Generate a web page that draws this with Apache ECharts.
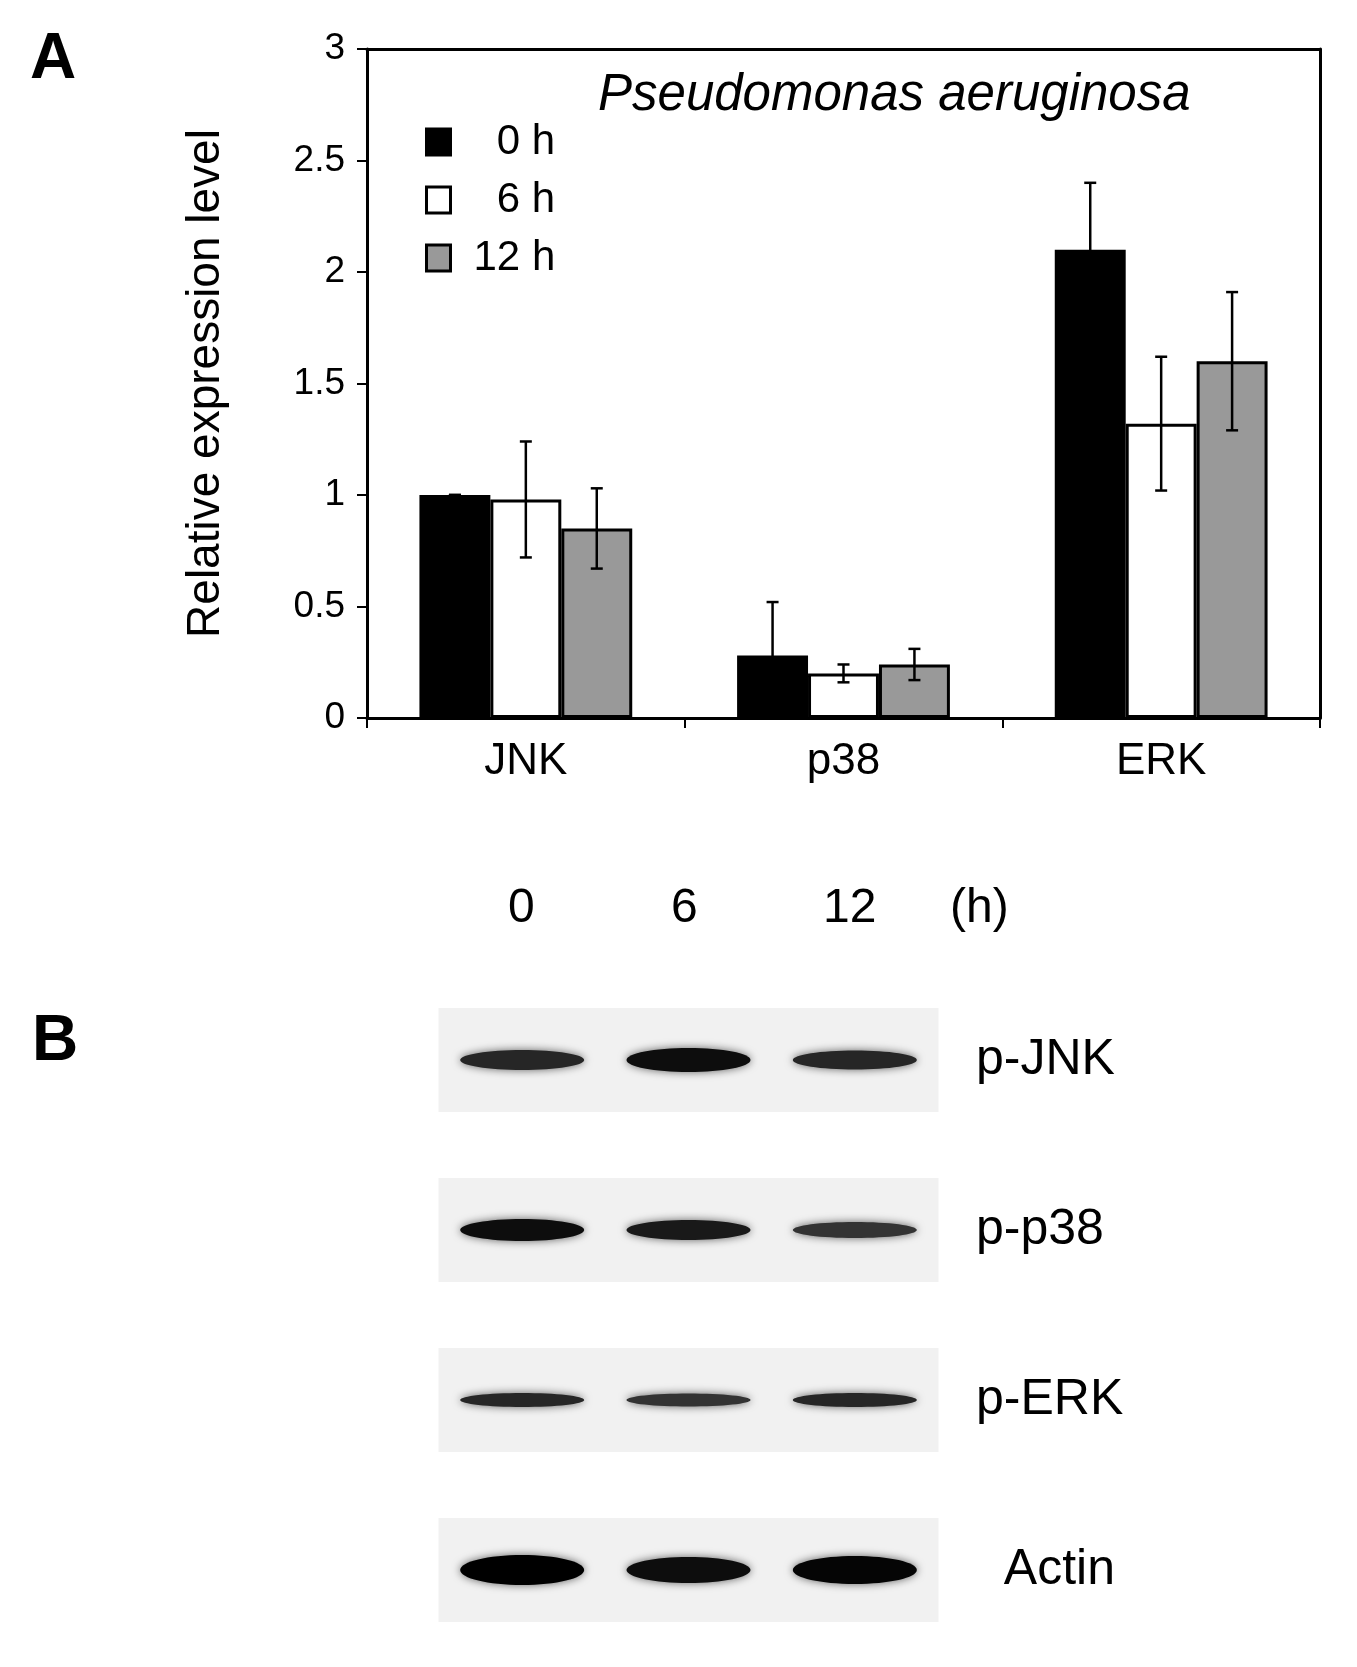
<!DOCTYPE html>
<html><head><meta charset="utf-8">
<script src="https://cdn.jsdelivr.net/npm/echarts@6/dist/echarts.min.js"></script>
<style>html,body{margin:0;background:#fff}#main{width:1357px;height:1667px}</style>
</head><body><div id="main"></div>
<script>
var myChart = echarts.init(document.getElementById('main'));

var genes = ['JNK', 'p38', 'ERK'];
var timeNames = ['0 h', '6 h', '12 h'];
var val_0h = [1.0, 0.28, 2.1];
var val_6h = [0.98, 0.2, 1.32];
var val_12h = [0.85, 0.24, 1.6];
var err_0h = [0.0, 0.24, 0.3];
var err_6h = [0.26, 0.04, 0.3];
var err_12h = [0.18, 0.07, 0.31];
var barColors = ['#000000', '#ffffff', '#999999'];

// western blot panel
var lanes = ['0', '6', '12'];
var blotRows = ['p-JNK', 'p-p38', 'p-ERK', 'Actin'];
// band thickness (px) per row, per lane
var bandThick = [[20, 24, 19], [22, 20, 16], [14, 13, 14], [30, 26, 28]];
var bandDark = [[0.85, 0.95, 0.85], [0.95, 0.9, 0.8], [0.85, 0.8, 0.85], [1, 0.95, 0.98]];

var BW = 0.2233;
var allVals = [val_0h, val_6h, val_12h];
var allErr = [err_0h, err_6h, err_12h];
var errData = [];
for (var s = 0; s < 3; s++) {
    for (var i = 0; i < genes.length; i++) {
        errData.push([i, allVals[s][i], allErr[s][i], s]);
    }
}
var blotData = [];
for (var r = 0; r < blotRows.length; r++) {
    for (var l = 0; l < lanes.length; l++) {
        blotData.push([l, r, bandThick[r][l], bandDark[r][l]]);
    }
}

var font = 'Liberation Sans, Arial, sans-serif';

myChart.setOption({
    animation: false,
    backgroundColor: '#fff',
    textStyle: {fontFamily: font},
    graphic: [
        {type: 'text', left: 30, top: 28, style: {text: 'A', font: 'bold 64px ' + font, fill: '#000'}},
        {type: 'text', left: 32, top: 1010, style: {text: 'B', font: 'bold 64px ' + font, fill: '#000'}},
        {type: 'text', left: 598, top: 70, style: {text: 'Pseudomonas aeruginosa', font: 'italic 51px ' + font, fill: '#000'}},
        {type: 'text', left: 508, top: 885, style: {text: '0', font: '48px ' + font, fill: '#000'}},
        {type: 'text', left: 671, top: 885, style: {text: '6', font: '48px ' + font, fill: '#000'}},
        {type: 'text', left: 823, top: 885, style: {text: '12', font: '48px ' + font, fill: '#000'}},
        {type: 'text', left: 950, top: 885, style: {text: '(h)', font: '48px ' + font, fill: '#000'}}
    ],
    legend: {
        orient: 'vertical', left: 420, top: 116, itemGap: 16,
        itemWidth: 24, itemHeight: 26, icon: 'rect',
        itemStyle: {borderColor: '#000', borderWidth: 3},
        data: timeNames,
        textStyle: {fontSize: 42, color: '#000', fontFamily: font, padding: [0, 0, 0, 18]},
        formatter: function (n) { return n === '12 h' ? n : '  ' + n; }
    },
    grid: [
        {left: 367, top: 49, width: 953, height: 669},
        {left: 439, top: 975, width: 499, height: 680}
    ],
    xAxis: [
        {type: 'category', data: genes, gridIndex: 0,
            axisLine: {lineStyle: {color: '#000', width: 3}},
            axisTick: {show: true, length: 10, lineStyle: {width: 2}, alignWithLabel: false},
            axisLabel: {fontSize: 44, color: '#000', margin: 22, fontFamily: font}},
        {type: 'category', data: genes, gridIndex: 0, position: 'top',
            axisLine: {show: true, onZero: false, lineStyle: {color: '#000', width: 3}}, axisTick: {show: false}, axisLabel: {show: false}},
        {type: 'category', data: lanes, gridIndex: 1, show: false}
    ],
    yAxis: [
        {type: 'value', min: 0, max: 3, interval: 0.5, gridIndex: 0,
            name: 'Relative expression level', nameLocation: 'middle', nameGap: 138,
            nameTextStyle: {fontSize: 46, color: '#000', fontFamily: font},
            axisLine: {show: true, lineStyle: {color: '#000', width: 3}},
            axisTick: {show: true, length: 10, lineStyle: {width: 2}},
            splitLine: {show: false},
            axisLabel: {fontSize: 37, color: '#000', margin: 22, fontFamily: font}},
        {type: 'value', min: 0, max: 3, gridIndex: 0, position: 'right',
            axisLine: {show: true, onZero: false, lineStyle: {color: '#000', width: 3}},
            axisTick: {show: false}, axisLabel: {show: false}, splitLine: {show: false}},
        {type: 'category', data: blotRows, inverse: true, gridIndex: 1,
            axisLine: {show: false}, axisTick: {show: false},
            axisLabel: {inside: false, fontSize: 50, color: '#000', margin: -537, align: 'left', fontFamily: font,
                formatter: function (v) { return v === 'Actin' ? '  ' + v : v; }}}
    ],
    series: [
        {name: '0 h', type: 'bar', data: val_0h, barWidth: (BW * 100) + '%', barGap: '0%',
            itemStyle: {color: barColors[0], borderColor: '#000', borderWidth: 3}},
        {name: '6 h', type: 'bar', data: val_6h, barWidth: (BW * 100) + '%', barGap: '0%',
            itemStyle: {color: barColors[1], borderColor: '#000', borderWidth: 3}},
        {name: '12 h', type: 'bar', data: val_12h, barWidth: (BW * 100) + '%', barGap: '0%',
            itemStyle: {color: barColors[2], borderColor: '#000', borderWidth: 3}},
        {type: 'custom', xAxisIndex: 0, yAxisIndex: 0, data: errData, z: 10,
            renderItem: function (params, api) {
                var cw = api.size([1, 0])[0];
                var c = api.coord([api.value(0), api.value(1)]);
                var x = c[0] + (api.value(3) - 1) * cw * BW;
                var hi = api.coord([0, api.value(1) + api.value(2)])[1];
                var lo = api.coord([0, api.value(1) - api.value(2)])[1];
                var st = {stroke: '#000', lineWidth: 2.5};
                return {type: 'group', children: [
                    {type: 'line', shape: {x1: x, y1: hi, x2: x, y2: lo}, style: st},
                    {type: 'line', shape: {x1: x - 6, y1: hi, x2: x + 6, y2: hi}, style: st},
                    {type: 'line', shape: {x1: x - 6, y1: lo, x2: x + 6, y2: lo}, style: st}
                ]};
            }},
        {type: 'custom', xAxisIndex: 2, yAxisIndex: 2, data: blotData,
            renderItem: function (params, api) {
                var c = api.coord([api.value(0), api.value(1)]);
                var w = api.size([1, 1]);
                var t = api.value(2), d = api.value(3);
                var g = Math.round(255 * (1 - d));
                return {type: 'group', children: [
                    {type: 'rect', shape: {x: c[0] - w[0] / 2 - 0.5, y: c[1] - 52, width: w[0] + 1, height: 104},
                        style: {fill: '#f1f1f1'}},
                    {type: 'ellipse', shape: {cx: c[0], cy: c[1], rx: 62, ry: t / 2},
                        style: {fill: 'rgb(' + g + ',' + g + ',' + g + ')', shadowBlur: 8, shadowColor: 'rgba(0,0,0,0.6)'}}
                ]};
            }}
    ]
});
</script></body></html>
